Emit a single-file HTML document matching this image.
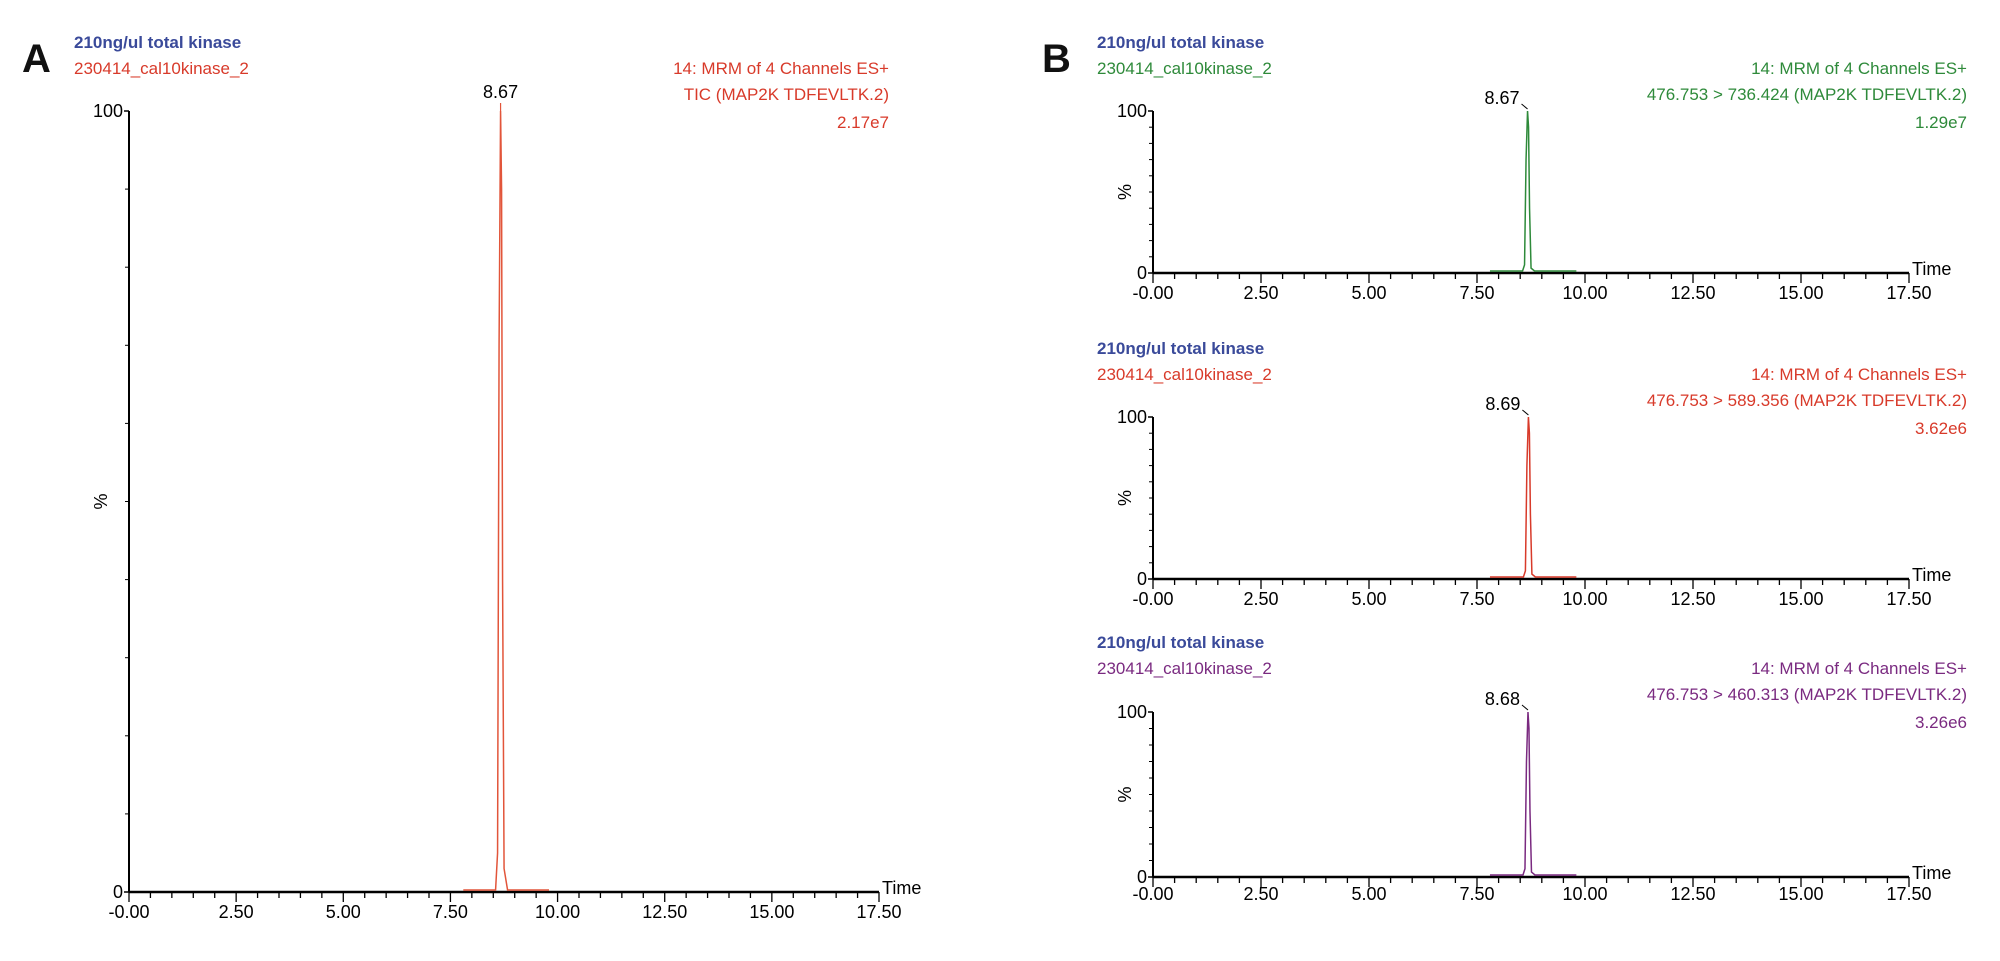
<!DOCTYPE html>
<html><head><meta charset="utf-8"><style>
html,body{margin:0;padding:0;background:#fff;}
svg{display:block;font-family:"Liberation Sans",Arial,sans-serif;}
</style></head><body>
<svg id="s" width="2000" height="961" xmlns="http://www.w3.org/2000/svg"></svg>
<script>
var s=document.getElementById('s'),h='';
function t(x,y,txt,col,anchor,size,weight){h+='<text x="'+x+'" y="'+y+'" fill="'+col+'" font-size="'+(size||17)+'" text-anchor="'+(anchor||'start')+'"'+(weight?' font-weight="bold"':'')+'>'+txt+'</text>';}
function panel(x0,x1,yTop,y0,col,peakLbl,peakT,lines,tY,big){
  var w=x1-x0;
  h+='<line x1="'+x0+'" y1="'+yTop+'" x2="'+x0+'" y2="'+y0+'" stroke="#000" stroke-width="2"/>';
  h+='<line x1="'+x0+'" y1="'+y0+'" x2="'+x1+'" y2="'+y0+'" stroke="#000" stroke-width="2.5"/>';
  h+='<line x1="'+(x0-5)+'" y1="'+yTop+'" x2="'+x0+'" y2="'+yTop+'" stroke="#000" stroke-width="1.5"/>';
  h+='<line x1="'+(x0-5)+'" y1="'+y0+'" x2="'+x0+'" y2="'+y0+'" stroke="#000" stroke-width="1.5"/>';
  for(var i=1;i<10;i++){var yy=y0-(y0-yTop)*i/10;h+='<line x1="'+(x0-4)+'" y1="'+yy+'" x2="'+x0+'" y2="'+yy+'" stroke="#000" stroke-width="1"/>';}
  for(var i=0;i<=35;i++){var xx=x0+w*i/35;var L=(i%5==0)?10:6;h+='<line x1="'+xx+'" y1="'+y0+'" x2="'+xx+'" y2="'+(y0+L)+'" stroke="#000" stroke-width="1.3"/>';}
  var labs=['-0.00','2.50','5.00','7.50','10.00','12.50','15.00','17.50'];
  for(var i=0;i<8;i++)t(x0+w*i*5/35,tY,labs[i],'#000','middle',18);
  t(x1+3,y0+2,'Time','#000','start',18);
  t(x0-6,yTop+6,'100','#000','end',18);
  t(x0-6,y0+6,'0','#000','end',18);
  var ym=(yTop+y0)/2;
  h+='<text x="'+(x0-22)+'" y="'+ym+'" font-size="18" text-anchor="middle" transform="rotate(-90 '+(x0-22)+' '+ym+')">%</text>';
  var px=x0+w*peakT/17.5, ph=y0-yTop;
  var x75=x0+w*7.8/17.5,x98=x0+w*9.8/17.5;
  h+='<polyline fill="none" stroke="'+col+'" stroke-width="1.5" points="'+x75+','+(y0-2)+' '+(px-5)+','+(y0-2)+' '+(px-3)+','+(y0-ph*0.05)+' '+(px-1.5)+','+(y0-ph*0.7)+' '+px+','+yTop+' '+(px+1)+','+(y0-ph*0.9)+' '+(px+2)+','+(y0-ph*0.4)+' '+(px+3.5)+','+(y0-ph*0.03)+' '+(px+7)+','+(y0-2)+' '+x98+','+(y0-2)+'"/>';
  if(big){t(px,yTop-13,peakLbl,'#000','middle',18);h+='<line x1="'+px+'" y1="'+(yTop-8)+'" x2="'+px+'" y2="'+yTop+'" stroke="'+col+'" stroke-width="1.2"/>';}
  else{t(px-8,yTop-7,peakLbl,'#000','end',18);h+='<line x1="'+(px-6)+'" y1="'+(yTop-7)+'" x2="'+px+'" y2="'+(yTop-2)+'" stroke="#000" stroke-width="1"/>';}
}
function hdr(x,xr,y,col,l2,l3){
  t(x,y,'210ng/ul total kinase','#3a4a9a','start',17,1);
  t(x,y+26,'230414_cal10kinase_2',col,'start',17);
  t(xr,y+26,'14: MRM of 4 Channels ES+',col,'end',17);
  t(xr,y+52,l2,col,'end',17);
  t(xr,y+80,l3,col,'end',17);
}
t(22,72,'A','#111','start',40,1);
t(1042,72,'B','#111','start',40,1);
var red='#d83a2a';
hdr(74,889,48,red,'TIC (MAP2K TDFEVLTK.2)','2.17e7');
panel(129,879,111,892,'#e2553a','8.67',8.67,0,918,true);
var green='#2e8a3a',purple='#7a2a80';
hdr(1097,1967,48,green,'476.753 &gt; 736.424 (MAP2K TDFEVLTK.2)','1.29e7');
panel(1153,1909,111,273,green,'8.67',8.67,0,299,false);
hdr(1097,1967,354,red,'476.753 &gt; 589.356 (MAP2K TDFEVLTK.2)','3.62e6');
panel(1153,1909,417,579,red,'8.69',8.69,0,605,false);
hdr(1097,1967,648,purple,'476.753 &gt; 460.313 (MAP2K TDFEVLTK.2)','3.26e6');
panel(1153,1909,712,877,purple,'8.68',8.68,0,900,false);
s.innerHTML=h;
</script>
</body></html>
